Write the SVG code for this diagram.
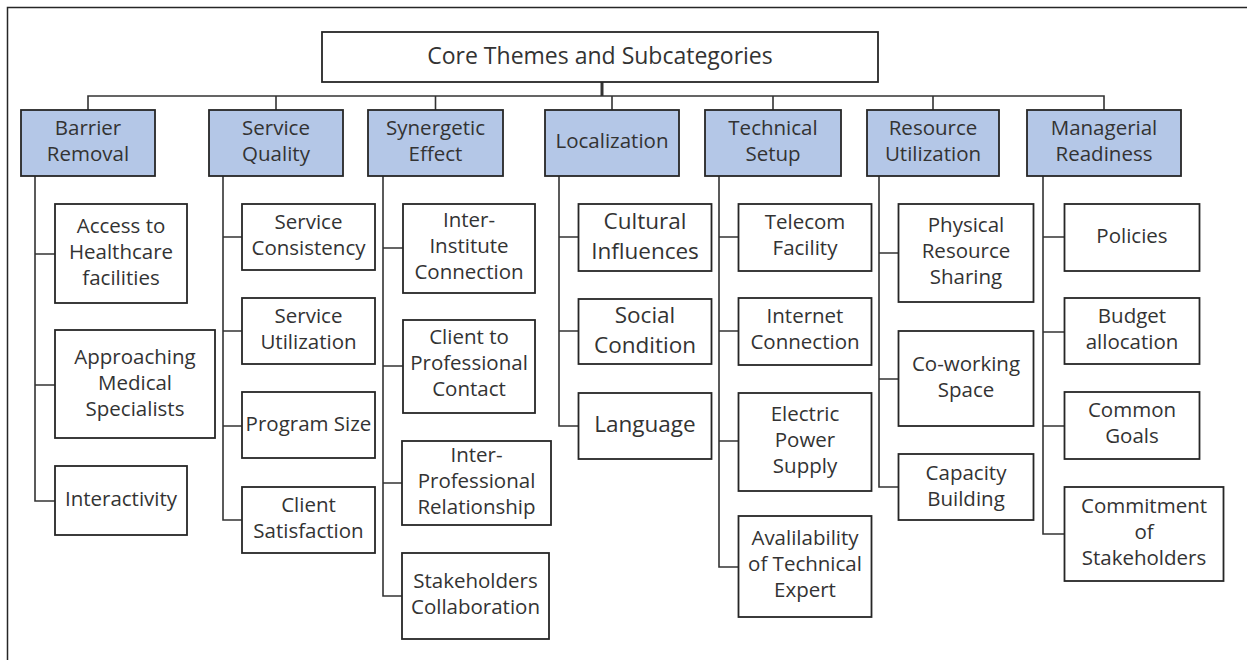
<svg xmlns="http://www.w3.org/2000/svg" width="1247" height="660" viewBox="0 0 1247 660">
<style>
  .bg { fill: #ffffff; }
  .frame { fill: none; stroke: #262626; stroke-width: 1.5; }
  .box { fill: #ffffff; stroke: #262626; stroke-width: 1.8; }
  .hdr { fill: #b4c7e7; stroke: #262626; stroke-width: 1.8; }
  .conn { fill: none; stroke: #333333; stroke-width: 1.6; }
  text { font-family: "Open Sans", "Liberation Sans", sans-serif; font-size: 20.5px; fill: #333333; text-anchor: middle; }
  .title { font-size: 23px; }
  .big { font-size: 22.5px; }
</style>
<rect class="bg" x="0" y="0" width="1247" height="660"/>
<path class="frame" d="M7.5,660 V7.5 H1247"/>

<g id="connectors">
  <path class="conn" d="M602,82 V96" style="stroke-width:3"/>
  <path class="conn" d="M88,110 V96 H1104 V110 M276,96 V110 M435.5,96 V110 M612,96 V110 M773,96 V110 M933,96 V110"/>
  <!-- Barrier Removal -->
  <path class="conn" d="M35,176 V501 H55 M35,254 H55 M35,385 H55"/>
  <!-- Service Quality -->
  <path class="conn" d="M223,176 V520 H242 M223,237 H242 M223,331 H242 M223,426 H242"/>
  <!-- Synergetic Effect -->
  <path class="conn" d="M383,176 V596 H402 M383,248 H403 M383,366 H403 M383,483 H402"/>
  <!-- Localization -->
  <path class="conn" d="M559,176 V426 H578.5 M559,237 H578.5 M559,331 H578.5"/>
  <!-- Technical Setup -->
  <path class="conn" d="M719,176 V567 H738.5 M719,237 H738.5 M719,331 H738.5 M719,441 H738.5"/>
  <!-- Resource Utilization -->
  <path class="conn" d="M879,176 V487 H898.5 M879,253 H898.5 M879,379 H898.5"/>
  <!-- Managerial Readiness -->
  <path class="conn" d="M1043,176 V534 H1064.5 M1043,237 H1064.5 M1043,332 H1064.5 M1043,426 H1064.5"/>
</g>

<g id="root">
  <rect class="box" x="322" y="32" width="556" height="50"/>
  <text class="title" x="600" y="63.5">Core Themes and Subcategories</text>
</g>

<g id="barrier-removal">
  <rect class="hdr" x="21" y="110" width="134" height="66"/>
  <text x="88" y="135">Barrier</text><text x="88" y="161">Removal</text>
</g>
<g id="service-quality">
  <rect class="hdr" x="209" y="110" width="134" height="66"/>
  <text x="276" y="135">Service</text><text x="276" y="161">Quality</text>
</g>
<g id="synergetic-effect">
  <rect class="hdr" x="368" y="110" width="135" height="66"/>
  <text x="435.5" y="135">Synergetic</text><text x="435.5" y="161">Effect</text>
</g>
<g id="localization">
  <rect class="hdr" x="545" y="110" width="134" height="66"/>
  <text x="612" y="148">Localization</text>
</g>
<g id="technical-setup">
  <rect class="hdr" x="705" y="110" width="136" height="66"/>
  <text x="773" y="135">Technical</text><text x="773" y="161">Setup</text>
</g>
<g id="resource-utilization">
  <rect class="hdr" x="867" y="110" width="132" height="66"/>
  <text x="933" y="135">Resource</text><text x="933" y="161">Utilization</text>
</g>
<g id="managerial-readiness">
  <rect class="hdr" x="1027" y="110" width="154" height="66"/>
  <text x="1104" y="135">Managerial</text><text x="1104" y="161">Readiness</text>
</g>

<!-- Barrier Removal children -->
<g id="access-healthcare">
  <rect class="box" x="55" y="204" width="132" height="99"/>
  <text x="121" y="233">Access to</text><text x="121" y="259">Healthcare</text><text x="121" y="285">facilities</text>
</g>
<g id="approaching-specialists">
  <rect class="box" x="55" y="330" width="160" height="108"/>
  <text x="135" y="364">Approaching</text><text x="135" y="390">Medical</text><text x="135" y="416">Specialists</text>
</g>
<g id="interactivity">
  <rect class="box" x="55" y="466" width="132" height="69"/>
  <text x="121" y="506">Interactivity</text>
</g>

<!-- Service Quality children -->
<g id="service-consistency">
  <rect class="box" x="242" y="204" width="133" height="66"/>
  <text x="308.5" y="229">Service</text><text x="308.5" y="255">Consistency</text>
</g>
<g id="service-utilization">
  <rect class="box" x="242" y="298" width="133" height="66"/>
  <text x="308.5" y="323">Service</text><text x="308.5" y="349">Utilization</text>
</g>
<g id="program-size">
  <rect class="box" x="242" y="392" width="133" height="66"/>
  <text x="308.5" y="431">Program Size</text>
</g>
<g id="client-satisfaction">
  <rect class="box" x="242" y="487" width="133" height="66"/>
  <text x="308.5" y="512">Client</text><text x="308.5" y="538">Satisfaction</text>
</g>

<!-- Synergetic Effect children -->
<g id="inter-institute">
  <rect class="box" x="403" y="204" width="132" height="89"/>
  <text x="469" y="227">Inter-</text><text x="469" y="253">Institute</text><text x="469" y="279">Connection</text>
</g>
<g id="client-professional">
  <rect class="box" x="403" y="320" width="132" height="93"/>
  <text x="469" y="344">Client to</text><text x="469" y="370">Professional</text><text x="469" y="396">Contact</text>
</g>
<g id="inter-professional">
  <rect class="box" x="402" y="441" width="149" height="84"/>
  <text x="476.5" y="462">Inter-</text><text x="476.5" y="488">Professional</text><text x="476.5" y="514">Relationship</text>
</g>
<g id="stakeholders-collaboration">
  <rect class="box" x="402" y="553" width="147" height="86"/>
  <text x="475.5" y="588">Stakeholders</text><text x="475.5" y="614">Collaboration</text>
</g>

<!-- Localization children -->
<g id="cultural-influences">
  <rect class="box" x="578.5" y="204" width="133" height="67"/>
  <text class="big" x="645" y="228.5">Cultural</text><text class="big" x="645" y="258.5">Influences</text>
</g>
<g id="social-condition">
  <rect class="box" x="578.5" y="299" width="133" height="65"/>
  <text class="big" x="645" y="323">Social</text><text class="big" x="645" y="353">Condition</text>
</g>
<g id="language">
  <rect class="box" x="578.5" y="393" width="133" height="66"/>
  <text class="big" x="645" y="432">Language</text>
</g>

<!-- Technical Setup children -->
<g id="telecom-facility">
  <rect class="box" x="738.5" y="204" width="133" height="67"/>
  <text x="805" y="229">Telecom</text><text x="805" y="255">Facility</text>
</g>
<g id="internet-connection">
  <rect class="box" x="738.5" y="298" width="133" height="67"/>
  <text x="805" y="323">Internet</text><text x="805" y="349">Connection</text>
</g>
<g id="electric-power">
  <rect class="box" x="738.5" y="393" width="133" height="98"/>
  <text x="805" y="421">Electric</text><text x="805" y="447">Power</text><text x="805" y="473">Supply</text>
</g>
<g id="technical-expert">
  <rect class="box" x="738.5" y="516" width="133" height="101"/>
  <text x="805" y="545">Avalilability</text><text x="805" y="571">of Technical</text><text x="805" y="597">Expert</text>
</g>

<!-- Resource Utilization children -->
<g id="physical-resource-sharing">
  <rect class="box" x="898.5" y="204" width="135" height="98"/>
  <text x="966" y="232">Physical</text><text x="966" y="258">Resource</text><text x="966" y="284">Sharing</text>
</g>
<g id="co-working-space">
  <rect class="box" x="898.5" y="331" width="135" height="95"/>
  <text x="966" y="371">Co-working</text><text x="966" y="397">Space</text>
</g>
<g id="capacity-building">
  <rect class="box" x="898.5" y="454" width="135" height="66"/>
  <text x="966" y="480">Capacity</text><text x="966" y="506">Building</text>
</g>

<!-- Managerial Readiness children -->
<g id="policies">
  <rect class="box" x="1064.5" y="204" width="135" height="67"/>
  <text x="1132" y="243">Policies</text>
</g>
<g id="budget-allocation">
  <rect class="box" x="1064.5" y="298" width="135" height="66"/>
  <text x="1132" y="323">Budget</text><text x="1132" y="349">allocation</text>
</g>
<g id="common-goals">
  <rect class="box" x="1064.5" y="392" width="135" height="67"/>
  <text x="1132" y="417">Common</text><text x="1132" y="443">Goals</text>
</g>
<g id="commitment-stakeholders">
  <rect class="box" x="1064.5" y="487" width="159" height="94"/>
  <text x="1144" y="513">Commitment</text><text x="1144" y="539">of</text><text x="1144" y="565">Stakeholders</text>
</g>
</svg>
